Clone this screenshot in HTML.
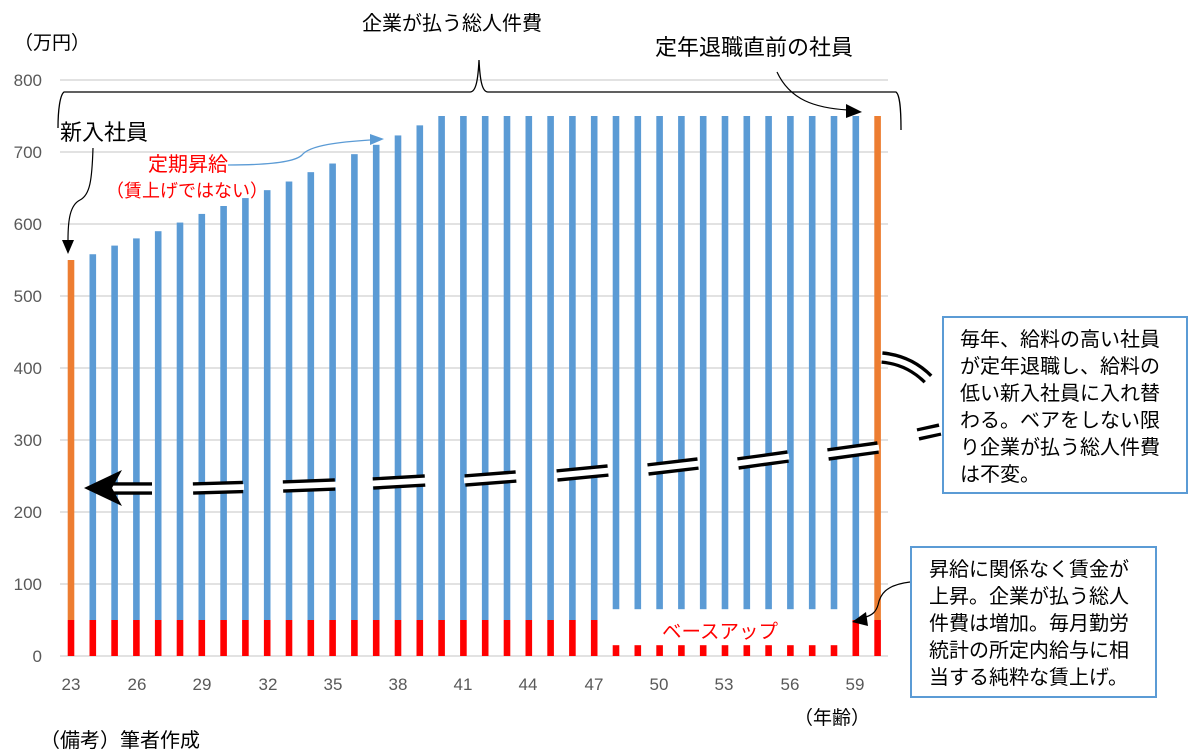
<!DOCTYPE html>
<html><head><meta charset="utf-8"><style>
body{margin:0;background:#fff}
svg{display:block}
text{font-family:"Liberation Sans","Noto Sans CJK JP",sans-serif}
</style></head><body>
<svg width="1198" height="756" viewBox="0 0 1198 756" xmlns="http://www.w3.org/2000/svg">
<g stroke="#d9d9d9" stroke-width="1.5">
<line x1="60" y1="80" x2="888" y2="80"/><line x1="60" y1="152" x2="888" y2="152"/><line x1="60" y1="224" x2="888" y2="224"/><line x1="60" y1="296" x2="888" y2="296"/><line x1="60" y1="368" x2="888" y2="368"/><line x1="60" y1="440" x2="888" y2="440"/><line x1="60" y1="512" x2="888" y2="512"/><line x1="60" y1="584" x2="888" y2="584"/><line x1="60" y1="656" x2="888" y2="656"/>
</g>
<g fill="#595959" font-size="17" text-anchor="end">
<text x="42" y="86">800</text><text x="42" y="158">700</text><text x="42" y="230">600</text><text x="42" y="302">500</text><text x="42" y="374">400</text><text x="42" y="446">300</text><text x="42" y="518">200</text><text x="42" y="590">100</text><text x="42" y="662">0</text>
</g>
<g fill="#595959" font-size="17" text-anchor="middle">
<text x="71" y="690">23</text><text x="137" y="690">26</text><text x="202" y="690">29</text><text x="268" y="690">32</text><text x="333" y="690">35</text><text x="398" y="690">38</text><text x="463" y="690">41</text><text x="528" y="690">44</text><text x="594" y="690">47</text><text x="659" y="690">50</text><text x="724" y="690">53</text><text x="790" y="690">56</text><text x="855" y="690">59</text>
</g>
<g fill="#5b9bd5">
<rect x="89.5" y="254.24" width="6.6" height="365.76"/>
<rect x="111.3" y="245.6" width="6.6" height="374.4"/>
<rect x="133.1" y="238.4" width="6.6" height="381.6"/>
<rect x="154.9" y="231.2" width="6.6" height="388.8"/>
<rect x="176.7" y="222.56" width="6.6" height="397.44"/>
<rect x="198.5" y="213.92" width="6.6" height="406.08"/>
<rect x="220.3" y="206" width="6.6" height="414"/>
<rect x="242.1" y="198.08" width="6.6" height="421.92"/>
<rect x="263.9" y="190.16" width="6.6" height="429.84"/>
<rect x="285.7" y="181.52" width="6.6" height="438.48"/>
<rect x="307.5" y="172.16" width="6.6" height="447.84"/>
<rect x="329.3" y="163.52" width="6.6" height="456.48"/>
<rect x="351.1" y="154.16" width="6.6" height="465.84"/>
<rect x="372.9" y="144.8" width="6.6" height="475.2"/>
<rect x="394.7" y="135.44" width="6.6" height="484.56"/>
<rect x="416.5" y="125.36" width="6.6" height="494.64"/>
<rect x="438.3" y="116" width="6.6" height="504"/>
<rect x="460.1" y="116" width="6.6" height="504"/>
<rect x="481.9" y="116" width="6.6" height="504"/>
<rect x="503.7" y="116" width="6.6" height="504"/>
<rect x="525.5" y="116" width="6.6" height="504"/>
<rect x="547.3" y="116" width="6.6" height="504"/>
<rect x="569.1" y="116" width="6.6" height="504"/>
<rect x="590.9" y="116" width="6.6" height="504"/>
<rect x="612.7" y="116" width="6.6" height="493.2"/>
<rect x="634.5" y="116" width="6.6" height="493.2"/>
<rect x="656.3" y="116" width="6.6" height="493.2"/>
<rect x="678.1" y="116" width="6.6" height="493.2"/>
<rect x="699.9" y="116" width="6.6" height="493.2"/>
<rect x="721.7" y="116" width="6.6" height="493.2"/>
<rect x="743.5" y="116" width="6.6" height="493.2"/>
<rect x="765.3" y="116" width="6.6" height="493.2"/>
<rect x="787.1" y="116" width="6.6" height="493.2"/>
<rect x="808.9" y="116" width="6.6" height="493.2"/>
<rect x="830.7" y="116" width="6.6" height="493.2"/>
<rect x="852.5" y="116" width="6.6" height="504"/>
</g>
<g fill="#ed7d31">
<rect x="67.7" y="260" width="6.6" height="360"/>
<rect x="874.3" y="116" width="6.6" height="504"/>
</g>
<g fill="#ff0000">
<rect x="67.7" y="620" width="6.6" height="36"/>
<rect x="89.5" y="620" width="6.6" height="36"/>
<rect x="111.3" y="620" width="6.6" height="36"/>
<rect x="133.1" y="620" width="6.6" height="36"/>
<rect x="154.9" y="620" width="6.6" height="36"/>
<rect x="176.7" y="620" width="6.6" height="36"/>
<rect x="198.5" y="620" width="6.6" height="36"/>
<rect x="220.3" y="620" width="6.6" height="36"/>
<rect x="242.1" y="620" width="6.6" height="36"/>
<rect x="263.9" y="620" width="6.6" height="36"/>
<rect x="285.7" y="620" width="6.6" height="36"/>
<rect x="307.5" y="620" width="6.6" height="36"/>
<rect x="329.3" y="620" width="6.6" height="36"/>
<rect x="351.1" y="620" width="6.6" height="36"/>
<rect x="372.9" y="620" width="6.6" height="36"/>
<rect x="394.7" y="620" width="6.6" height="36"/>
<rect x="416.5" y="620" width="6.6" height="36"/>
<rect x="438.3" y="620" width="6.6" height="36"/>
<rect x="460.1" y="620" width="6.6" height="36"/>
<rect x="481.9" y="620" width="6.6" height="36"/>
<rect x="503.7" y="620" width="6.6" height="36"/>
<rect x="525.5" y="620" width="6.6" height="36"/>
<rect x="547.3" y="620" width="6.6" height="36"/>
<rect x="569.1" y="620" width="6.6" height="36"/>
<rect x="590.9" y="620" width="6.6" height="36"/>
<rect x="612.7" y="645.2" width="6.6" height="10.8"/>
<rect x="634.5" y="645.2" width="6.6" height="10.8"/>
<rect x="656.3" y="645.2" width="6.6" height="10.8"/>
<rect x="678.1" y="645.2" width="6.6" height="10.8"/>
<rect x="699.9" y="645.2" width="6.6" height="10.8"/>
<rect x="721.7" y="645.2" width="6.6" height="10.8"/>
<rect x="743.5" y="645.2" width="6.6" height="10.8"/>
<rect x="765.3" y="645.2" width="6.6" height="10.8"/>
<rect x="787.1" y="645.2" width="6.6" height="10.8"/>
<rect x="808.9" y="645.2" width="6.6" height="10.8"/>
<rect x="830.7" y="645.2" width="6.6" height="10.8"/>
<rect x="852.5" y="620" width="6.6" height="36"/>
<rect x="874.3" y="620" width="6.6" height="36"/>
</g>
<path d="M58 128 C58 110 60 95 64 92 L470 92 C476 92 478 80 479 60 C480 80 482 92 488 92 L896 92 C900 95 901 110 901 130" fill="none" stroke="#000" stroke-width="1.3"/>
<path d="M93 148 C92 180 90 195 80 200 C70 205 68 220 68 240" fill="none" stroke="#000" stroke-width="1.2"/>
<polygon points="62,240 74,240 68,254" fill="#000"/>
<path d="M228 165 C270 165 295 162 302 155 C310 145 340 142 370 140" fill="none" stroke="#5b9bd5" stroke-width="1.3"/>
<polygon points="370,134 384,139 370,145" fill="#5b9bd5"/>
<path d="M777 72 C790 100 815 108 848 110" fill="none" stroke="#000" stroke-width="1.2"/>
<polygon points="846,104 862,112 846,118" fill="#000"/>
<path d="M910 582 C885 585 880 595 878 605 C876 612 872 615 866 617" fill="none" stroke="#000" stroke-width="1.2"/>
<polygon points="852,622 866,612 868,626" fill="#000"/>
<g fill="none" stroke-linecap="butt">
<g stroke="#000" stroke-width="12.5">
<line x1="110" y1="488.5" x2="152" y2="488.5"/>
<line x1="193" y1="488.5" x2="243" y2="487"/>
<line x1="283" y1="486.5" x2="335" y2="484.5"/>
<line x1="373" y1="483.5" x2="425" y2="480.5"/>
<line x1="465" y1="480.5" x2="516" y2="476.5"/>
<line x1="557" y1="475.5" x2="608" y2="470.5"/>
<line x1="648" y1="469.5" x2="698" y2="463.5"/>
<line x1="738" y1="463.5" x2="788" y2="456.5"/>
<line x1="828" y1="454.5" x2="878" y2="447.5"/>
<line x1="918" y1="434.5" x2="940" y2="429.5"/>
<path d="M882 357.5 C904 359.5 918 369 928 379"/>
</g>
<g stroke="#fff" stroke-width="5.8">
<line x1="109" y1="488.5" x2="153" y2="488.5"/>
<line x1="192" y1="488.5" x2="244" y2="487"/>
<line x1="282" y1="486.5" x2="336" y2="484.5"/>
<line x1="372" y1="483.5" x2="426" y2="480.5"/>
<line x1="464" y1="480.5" x2="517" y2="476.5"/>
<line x1="556" y1="475.5" x2="609" y2="470.5"/>
<line x1="647" y1="469.5" x2="699" y2="463.5"/>
<line x1="737" y1="463.5" x2="789" y2="456.5"/>
<line x1="827" y1="454.5" x2="879" y2="447.5"/>
<line x1="917" y1="434.5" x2="941" y2="429.5"/>
<path d="M881 357.5 C904 359.5 918 369 929 380"/>
</g>
</g>
<polygon points="84,488 122,470 112,488 122,506" fill="#000"/>
<g fill="#000">
<text x="14" y="49" font-size="19">（万円）</text>
<text x="362" y="30" font-size="20">企業が払う総人件費</text>
<text x="655" y="55" font-size="22">定年退職直前の社員</text>
<text x="60" y="140" font-size="22">新入社員</text>
<text x="794" y="724" font-size="19">（年齢）</text>
<text x="40" y="747" font-size="20">（備考）筆者作成</text>
</g>
<g fill="#ff0000">
<text x="148" y="171" font-size="20">定期昇給</text>
<text x="106" y="197" font-size="18">（賃上げではない）</text>
<text x="662" y="638" font-size="19.5">ベースアップ</text>
</g>
<rect x="943" y="317" width="244" height="176" fill="#fff" stroke="#5b9bd5" stroke-width="2"/>
<g font-size="20" fill="#000">
<text x="960" y="346">毎年、給料の高い社員</text>
<text x="960" y="373">が定年退職し、給料の</text>
<text x="960" y="400">低い新入社員に入れ替</text>
<text x="960" y="427">わる。ベアをしない限</text>
<text x="960" y="454">り企業が払う総人件費</text>
<text x="960" y="481">は不変。</text>
</g>
<rect x="911" y="547" width="245" height="150" fill="#fff" stroke="#5b9bd5" stroke-width="2"/>
<g font-size="20" fill="#000">
<text x="929" y="576">昇給に関係なく賃金が</text>
<text x="929" y="603">上昇。企業が払う総人</text>
<text x="929" y="630">件費は増加。毎月勤労</text>
<text x="929" y="657">統計の所定内給与に相</text>
<text x="929" y="684">当する純粋な賃上げ。</text>
</g>
</svg>
</body></html>
